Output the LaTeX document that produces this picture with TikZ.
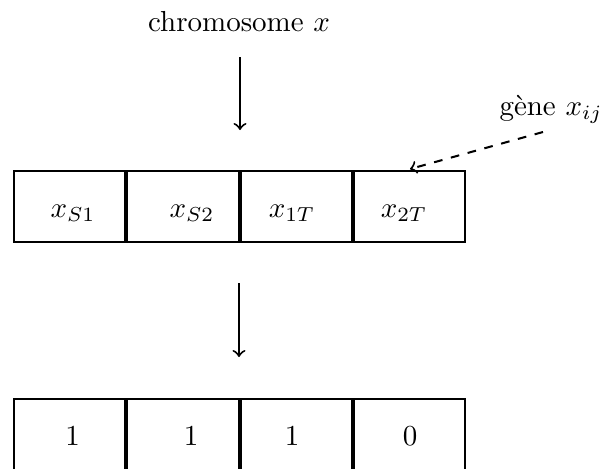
\documentclass[tikz,border=0pt]{standalone}
\usetikzlibrary{positioning}
\begin{document}
\begin{tikzpicture}[x=0.345pt,y=-0.345pt,line width=0.7pt,
  cell/.style={draw,line width=0.7pt,minimum width=38.4pt,minimum height=24.5pt,inner sep=0pt},
  lowcell/.style={cell,minimum height=25.4pt},
  lbl/.style={anchor=base,inner sep=0pt},
  arr/.style={->,line width=0.7pt}]
\useasboundingbox (0,0) rectangle (608,468);
\clip (0,0) rectangle (608,468);
% top row
\node[cell] (a1) at (69.6,206.5) {};
\node[cell,right=0pt of a1] (a2) {};
\node[cell,right=0pt of a2] (a3) {};
\node[cell,right=0pt of a3] (a4) {};
% bottom row
\node[lowcell] (b1) at (69.6,435.5) {};
\node[lowcell,right=0pt of b1] (b2) {};
\node[lowcell,right=0pt of b2] (b3) {};
\node[lowcell,right=0pt of b3] (b4) {};
% texts top
\node[lbl] (ta1) at (73,217) {$x_{S1}$};
\node[lbl] (ta2) at (192,217) {$x_{S2}$};
\node[lbl] (ta3) at (292,217) {$x_{1T}$};
\node[lbl] (ta4) at (404,217) {$x_{2T}$};
% texts bottom
\node[lbl] (tb1) at (72.5,445) {1};
\node[lbl] (tb2) at (191,445) {1};
\node[lbl] (tb3) at (292,445) {1};
\node[lbl] (tb4) at (410,445) {0};
% labels
\node[lbl] (chrom) at (239,31) {chromosome $x$};
\node[lbl] (gene) at (551,115) {g\`ene $x_{ij}$};
% arrows
\coordinate (c1) at (240,57);
\coordinate (c2) at (240,130);
\coordinate (c3) at (239,283);
\coordinate (c4) at (239,357);
\coordinate (g1) at (543,132);
\coordinate (g2) at (410,169);
\draw[arr] (c1) -- (c2);
\draw[arr] (c3) -- (c4);
\draw[arr,dashed] (g1) -- (g2);
\end{tikzpicture}
\end{document}
